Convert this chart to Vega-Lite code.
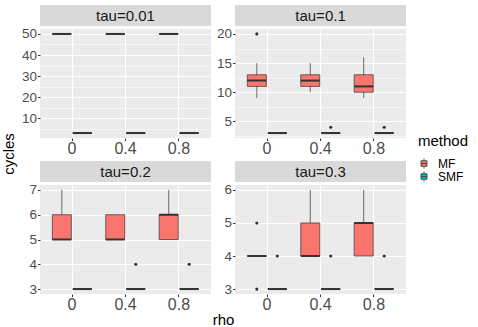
{
  "$schema": "https://vega.github.io/schema/vega-lite/v6.json",
  "padding": {"left": 2, "top": 5, "right": 5, "bottom": 3},
  "background": "white",
  "datasets": {
    "boxes": [
      {"tau": "0.01", "rho": "0", "method": "MF", "lo": 50, "q1": 50, "med": 50, "q3": 50, "hi": 50},
      {"tau": "0.01", "rho": "0.4", "method": "MF", "lo": 50, "q1": 50, "med": 50, "q3": 50, "hi": 50},
      {"tau": "0.01", "rho": "0.8", "method": "MF", "lo": 50, "q1": 50, "med": 50, "q3": 50, "hi": 50},
      {"tau": "0.01", "rho": "0", "method": "SMF", "lo": 3, "q1": 3, "med": 3, "q3": 3, "hi": 3},
      {"tau": "0.01", "rho": "0.4", "method": "SMF", "lo": 3, "q1": 3, "med": 3, "q3": 3, "hi": 3},
      {"tau": "0.01", "rho": "0.8", "method": "SMF", "lo": 3, "q1": 3, "med": 3, "q3": 3, "hi": 3},
      {"tau": "0.1", "rho": "0", "method": "MF", "lo": 9, "q1": 11, "med": 12, "q3": 13, "hi": 15},
      {"tau": "0.1", "rho": "0.4", "method": "MF", "lo": 10, "q1": 11, "med": 12, "q3": 13, "hi": 15},
      {"tau": "0.1", "rho": "0.8", "method": "MF", "lo": 9, "q1": 10, "med": 11, "q3": 13, "hi": 16},
      {"tau": "0.1", "rho": "0", "method": "SMF", "lo": 3, "q1": 3, "med": 3, "q3": 3, "hi": 3},
      {"tau": "0.1", "rho": "0.4", "method": "SMF", "lo": 3, "q1": 3, "med": 3, "q3": 3, "hi": 3},
      {"tau": "0.1", "rho": "0.8", "method": "SMF", "lo": 3, "q1": 3, "med": 3, "q3": 3, "hi": 3},
      {"tau": "0.2", "rho": "0", "method": "MF", "lo": 5, "q1": 5, "med": 5, "q3": 6, "hi": 7},
      {"tau": "0.2", "rho": "0.4", "method": "MF", "lo": 5, "q1": 5, "med": 5, "q3": 6, "hi": 6},
      {"tau": "0.2", "rho": "0.8", "method": "MF", "lo": 5, "q1": 5, "med": 6, "q3": 6, "hi": 7},
      {"tau": "0.2", "rho": "0", "method": "SMF", "lo": 3, "q1": 3, "med": 3, "q3": 3, "hi": 3},
      {"tau": "0.2", "rho": "0.4", "method": "SMF", "lo": 3, "q1": 3, "med": 3, "q3": 3, "hi": 3},
      {"tau": "0.2", "rho": "0.8", "method": "SMF", "lo": 3, "q1": 3, "med": 3, "q3": 3, "hi": 3},
      {"tau": "0.3", "rho": "0", "method": "MF", "lo": 4, "q1": 4, "med": 4, "q3": 4, "hi": 4},
      {"tau": "0.3", "rho": "0.4", "method": "MF", "lo": 4, "q1": 4, "med": 4, "q3": 5, "hi": 6},
      {"tau": "0.3", "rho": "0.8", "method": "MF", "lo": 4, "q1": 4, "med": 5, "q3": 5, "hi": 6},
      {"tau": "0.3", "rho": "0", "method": "SMF", "lo": 3, "q1": 3, "med": 3, "q3": 3, "hi": 3},
      {"tau": "0.3", "rho": "0.4", "method": "SMF", "lo": 3, "q1": 3, "med": 3, "q3": 3, "hi": 3},
      {"tau": "0.3", "rho": "0.8", "method": "SMF", "lo": 3, "q1": 3, "med": 3, "q3": 3, "hi": 3}
    ],
    "outliers": [
      {"tau": "0.1", "rho": "0", "method": "MF", "value": 20},
      {"tau": "0.1", "rho": "0.4", "method": "SMF", "value": 4},
      {"tau": "0.1", "rho": "0.8", "method": "SMF", "value": 4},
      {"tau": "0.2", "rho": "0.4", "method": "SMF", "value": 4},
      {"tau": "0.2", "rho": "0.8", "method": "SMF", "value": 4},
      {"tau": "0.3", "rho": "0", "method": "MF", "value": 5},
      {"tau": "0.3", "rho": "0", "method": "MF", "value": 3},
      {"tau": "0.3", "rho": "0", "method": "SMF", "value": 4},
      {"tau": "0.3", "rho": "0.4", "method": "SMF", "value": 4},
      {"tau": "0.3", "rho": "0.8", "method": "SMF", "value": 4}
    ],
    "strips": [
      {"tau": "0.01", "label": "tau=0.01"},
      {"tau": "0.1", "label": "tau=0.1"},
      {"tau": "0.2", "label": "tau=0.2"},
      {"tau": "0.3", "label": "tau=0.3"}
    ]
  },
  "title": {"text": "rho", "orient": "bottom", "anchor": "middle", "fontSize": 15, "fontWeight": "normal", "font": "Liberation Sans", "color": "#000000", "offset": 0, "dx": -12},
  "vconcat": [
    {
      "title": {"text": "cycles", "orient": "left", "anchor": "middle", "fontSize": 15, "fontWeight": "normal", "font": "Liberation Sans", "color": "#000000", "offset": 3, "dx": 5},
      "columns": 2,
      "spacing": {"column": 4, "row": 4},
      "concat": [
        {
          "spacing": 0,
          "vconcat": [
            {"width": 171, "height": 21, "view": {"fill": "#D9D9D9", "stroke": null},
             "data": {"name": "strips"}, "transform": [{"filter": "datum.tau === '0.01'"}],
             "mark": {"type": "text", "fontSize": 15, "color": "#1A1A1A", "font": "Liberation Sans"},
             "encoding": {"text": {"field": "label"}}},
            {"width": 171, "height": 109,
             "encoding": {
               "x": {"field": "rho", "type": "nominal", "sort": ["0", "0.4", "0.8"], "scale": {"paddingInner": 0, "paddingOuter": 0.1}, "axis": {"title": null, "bandPosition": 0.5, "grid": true}},
               "xOffset": {"field": "method", "type": "nominal", "scale": {"domain": ["MF", "SMF"], "paddingInner": 0.07, "paddingOuter": 0.34}}
             },
             "layer": [
               {"data": {"name": "boxes"}, "transform": [{"filter": "datum.tau === '0.01'"}],
                "mark": {"type": "rule", "color": "#333333", "strokeWidth": 0.7},
                "encoding": {"y": {"field": "lo", "type": "quantitative", "scale": {"domain": [0.65, 52.35], "nice": false, "zero": false},
                  "axis": {"title": null, "format": "d", "tickCount": 50, "labelOverlap": false, "values": [5, 10, 15, 20, 25, 30, 35, 40, 45, 50], "labelExpr": "datum.value % 10 === 0 ? datum.label : ''",
                    "tickOpacity": {"condition": {"test": "datum.value % 10 === 0", "value": 1}, "value": 0},
                    "gridWidth": {"condition": {"test": "datum.value % 10 === 0", "value": 1.1}, "value": 0.5}}},
                  "y2": {"field": "hi"}}},
               {"data": {"name": "boxes"}, "transform": [{"filter": "datum.tau === '0.01'"}],
                "mark": {"type": "bar", "stroke": "#333333", "strokeWidth": 0.7},
                "encoding": {"y": {"field": "q1", "type": "quantitative"}, "y2": {"field": "q3"},
                  "color": {"field": "method", "type": "nominal", "scale": {"domain": ["MF", "SMF"], "range": ["#F8766D", "#00BFC4"]}, "legend": {"title": "method"}}}},
               {"data": {"name": "boxes"}, "transform": [{"filter": "datum.tau === '0.01'"}],
                "mark": {"type": "tick", "color": "#333333", "thickness": 2, "size": 19, "opacity": 1},
                "encoding": {"y": {"field": "med", "type": "quantitative"}}}
             ]}
          ]
        },
        {
          "spacing": 0,
          "vconcat": [
            {"width": 171, "height": 21, "view": {"fill": "#D9D9D9", "stroke": null},
             "data": {"name": "strips"}, "transform": [{"filter": "datum.tau === '0.1'"}],
             "mark": {"type": "text", "fontSize": 15, "color": "#1A1A1A", "font": "Liberation Sans"},
             "encoding": {"text": {"field": "label"}}},
            {"width": 171, "height": 109,
             "encoding": {
               "x": {"field": "rho", "type": "nominal", "sort": ["0", "0.4", "0.8"], "scale": {"paddingInner": 0, "paddingOuter": 0.1}, "axis": {"title": null, "bandPosition": 0.5, "grid": true}},
               "xOffset": {"field": "method", "type": "nominal", "scale": {"domain": ["MF", "SMF"], "paddingInner": 0.07, "paddingOuter": 0.34}}
             },
             "layer": [
               {"data": {"name": "boxes"}, "transform": [{"filter": "datum.tau === '0.1'"}],
                "mark": {"type": "rule", "color": "#333333", "strokeWidth": 0.7},
                "encoding": {"y": {"field": "lo", "type": "quantitative", "scale": {"domain": [2.15, 20.85], "nice": false, "zero": false},
                  "axis": {"title": null, "format": "d", "tickCount": 50, "labelOverlap": false, "values": [2.5, 5, 7.5, 10, 12.5, 15, 17.5, 20], "labelExpr": "datum.value % 5 === 0 ? datum.label : ''",
                    "tickOpacity": {"condition": {"test": "datum.value % 5 === 0", "value": 1}, "value": 0},
                    "gridWidth": {"condition": {"test": "datum.value % 5 === 0", "value": 1.1}, "value": 0.5}}},
                  "y2": {"field": "hi"}}},
               {"data": {"name": "boxes"}, "transform": [{"filter": "datum.tau === '0.1'"}],
                "mark": {"type": "bar", "stroke": "#333333", "strokeWidth": 0.7},
                "encoding": {"y": {"field": "q1", "type": "quantitative"}, "y2": {"field": "q3"},
                  "color": {"field": "method", "type": "nominal", "scale": {"domain": ["MF", "SMF"], "range": ["#F8766D", "#00BFC4"]}, "legend": {"title": "method"}}}},
               {"data": {"name": "boxes"}, "transform": [{"filter": "datum.tau === '0.1'"}],
                "mark": {"type": "tick", "color": "#333333", "thickness": 2, "size": 19, "opacity": 1},
                "encoding": {"y": {"field": "med", "type": "quantitative"}}},
               {"data": {"name": "outliers"}, "transform": [{"filter": "datum.tau === '0.1'"}],
                "mark": {"type": "circle", "color": "#333333", "size": 10, "opacity": 1},
                "encoding": {"y": {"field": "value", "type": "quantitative"}}}
             ]}
          ]
        },
        {
          "spacing": 0,
          "vconcat": [
            {"width": 171, "height": 21, "view": {"fill": "#D9D9D9", "stroke": null},
             "data": {"name": "strips"}, "transform": [{"filter": "datum.tau === '0.2'"}],
             "mark": {"type": "text", "fontSize": 15, "color": "#1A1A1A", "font": "Liberation Sans"},
             "encoding": {"text": {"field": "label"}}},
            {"width": 171, "height": 109,
             "encoding": {
               "x": {"field": "rho", "type": "nominal", "sort": ["0", "0.4", "0.8"], "scale": {"paddingInner": 0, "paddingOuter": 0.1}, "axis": {"title": null, "bandPosition": 0.5, "grid": true}},
               "xOffset": {"field": "method", "type": "nominal", "scale": {"domain": ["MF", "SMF"], "paddingInner": 0.07, "paddingOuter": 0.34}}
             },
             "layer": [
               {"data": {"name": "boxes"}, "transform": [{"filter": "datum.tau === '0.2'"}],
                "mark": {"type": "rule", "color": "#333333", "strokeWidth": 0.7},
                "encoding": {"y": {"field": "lo", "type": "quantitative", "scale": {"domain": [2.8, 7.2], "nice": false, "zero": false},
                  "axis": {"title": null, "format": "d", "tickCount": 50, "labelOverlap": false, "values": [3, 3.5, 4, 4.5, 5, 5.5, 6, 6.5, 7], "labelExpr": "datum.value % 1 === 0 ? datum.label : ''",
                    "tickOpacity": {"condition": {"test": "datum.value % 1 === 0", "value": 1}, "value": 0},
                    "gridWidth": {"condition": {"test": "datum.value % 1 === 0", "value": 1.1}, "value": 0.5}}},
                  "y2": {"field": "hi"}}},
               {"data": {"name": "boxes"}, "transform": [{"filter": "datum.tau === '0.2'"}],
                "mark": {"type": "bar", "stroke": "#333333", "strokeWidth": 0.7},
                "encoding": {"y": {"field": "q1", "type": "quantitative"}, "y2": {"field": "q3"},
                  "color": {"field": "method", "type": "nominal", "scale": {"domain": ["MF", "SMF"], "range": ["#F8766D", "#00BFC4"]}, "legend": {"title": "method"}}}},
               {"data": {"name": "boxes"}, "transform": [{"filter": "datum.tau === '0.2'"}],
                "mark": {"type": "tick", "color": "#333333", "thickness": 2, "size": 19, "opacity": 1},
                "encoding": {"y": {"field": "med", "type": "quantitative"}}},
               {"data": {"name": "outliers"}, "transform": [{"filter": "datum.tau === '0.2'"}],
                "mark": {"type": "circle", "color": "#333333", "size": 10, "opacity": 1},
                "encoding": {"y": {"field": "value", "type": "quantitative"}}}
             ]}
          ]
        },
        {
          "spacing": 0,
          "vconcat": [
            {"width": 171, "height": 21, "view": {"fill": "#D9D9D9", "stroke": null},
             "data": {"name": "strips"}, "transform": [{"filter": "datum.tau === '0.3'"}],
             "mark": {"type": "text", "fontSize": 15, "color": "#1A1A1A", "font": "Liberation Sans"},
             "encoding": {"text": {"field": "label"}}},
            {"width": 171, "height": 109,
             "encoding": {
               "x": {"field": "rho", "type": "nominal", "sort": ["0", "0.4", "0.8"], "scale": {"paddingInner": 0, "paddingOuter": 0.1}, "axis": {"title": null, "bandPosition": 0.5, "grid": true}},
               "xOffset": {"field": "method", "type": "nominal", "scale": {"domain": ["MF", "SMF"], "paddingInner": 0.07, "paddingOuter": 0.34}}
             },
             "layer": [
               {"data": {"name": "boxes"}, "transform": [{"filter": "datum.tau === '0.3'"}],
                "mark": {"type": "rule", "color": "#333333", "strokeWidth": 0.7},
                "encoding": {"y": {"field": "lo", "type": "quantitative", "scale": {"domain": [2.85, 6.15], "nice": false, "zero": false},
                  "axis": {"title": null, "format": "d", "tickCount": 50, "labelOverlap": false, "values": [3, 3.5, 4, 4.5, 5, 5.5, 6], "labelExpr": "datum.value % 1 === 0 ? datum.label : ''",
                    "tickOpacity": {"condition": {"test": "datum.value % 1 === 0", "value": 1}, "value": 0},
                    "gridWidth": {"condition": {"test": "datum.value % 1 === 0", "value": 1.1}, "value": 0.5}}},
                  "y2": {"field": "hi"}}},
               {"data": {"name": "boxes"}, "transform": [{"filter": "datum.tau === '0.3'"}],
                "mark": {"type": "bar", "stroke": "#333333", "strokeWidth": 0.7},
                "encoding": {"y": {"field": "q1", "type": "quantitative"}, "y2": {"field": "q3"},
                  "color": {"field": "method", "type": "nominal", "scale": {"domain": ["MF", "SMF"], "range": ["#F8766D", "#00BFC4"]}, "legend": {"title": "method"}}}},
               {"data": {"name": "boxes"}, "transform": [{"filter": "datum.tau === '0.3'"}],
                "mark": {"type": "tick", "color": "#333333", "thickness": 2, "size": 19, "opacity": 1},
                "encoding": {"y": {"field": "med", "type": "quantitative"}}},
               {"data": {"name": "outliers"}, "transform": [{"filter": "datum.tau === '0.3'"}],
                "mark": {"type": "circle", "color": "#333333", "size": 10, "opacity": 1},
                "encoding": {"y": {"field": "value", "type": "quantitative"}}}
             ]}
          ]
        }
      ]
    }
  ],
  "config": {
    "font": "Liberation Sans",
    "view": {"fill": "#EBEBEB", "stroke": null},
    "axis": {
      "domain": false,
      "gridColor": "#FFFFFF",
      "gridOpacity": 1,
      "tickColor": "#333333",
      "tickSize": 2.5,
      "tickWidth": 1,
      "labelColor": "#4D4D4D",
      "labelFont": "Liberation Sans",
      "labelOverlap": false
    },
    "axisY": {"minExtent": 20, "maxExtent": 20, "labelFontSize": 13.5, "labelPadding": 1},
    "axisX": {"minExtent": 19, "maxExtent": 19, "labelAngle": 0, "labelFontSize": 16, "labelPadding": 0},
    "legend": {
      "orient": "none",
      "legendX": 378,
      "legendY": 129,
      "padding": 0,
      "titleFontSize": 15,
      "titleFontWeight": "normal",
      "titleColor": "#000000",
      "titleFont": "Liberation Sans",
      "labelFontSize": 12,
      "labelColor": "#000000",
      "labelFont": "Liberation Sans",
      "symbolType": "M-0.6,-0.55H0.6V0.55H-0.6Z M-0.6,0H0.6 M0,-1V-0.55 M0,0.55V1",
      "symbolSize": 100,
      "symbolStrokeColor": "#333333",
      "symbolStrokeWidth": 0.8,
      "symbolOpacity": 1,
      "rowPadding": -8,
      "titlePadding": 8.5,
      "labelOffset": 8
    }
  }
}
